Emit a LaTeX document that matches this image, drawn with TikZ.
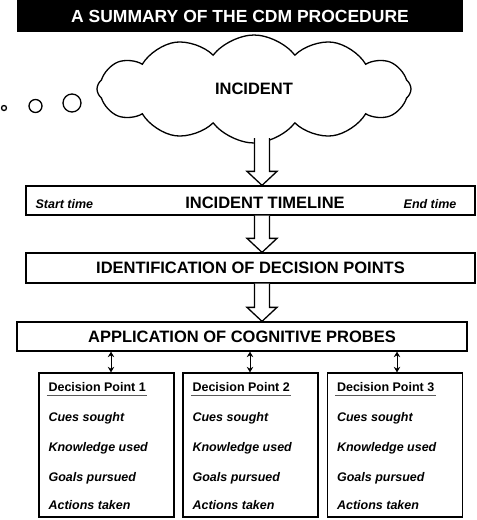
\documentclass[tikz,border=0pt]{standalone}
\usepackage{fontspec}
\setmainfont{Liberation Sans}
\usetikzlibrary{arrows.meta,shapes.symbols,calc}

\tikzset{
  stagebox/.style={draw,line width=1.3pt,minimum height=29pt,inner sep=0pt,
                   font=\fontsize{16.5}{18}\selectfont\bfseries},
  dpbox/.style={draw,line width=1.3pt,minimum width=135pt,minimum height=144pt,inner sep=0pt},
  dptitle/.style={anchor=base west,inner xsep=1.5pt,inner ysep=4pt,text depth=0pt,
                  font=\fontsize{12.5}{14}\selectfont\bfseries},
  dpitem/.style={anchor=base west,inner sep=0pt,
                 font=\fontsize{12.5}{14}\selectfont\bfseries\itshape},
  bubble/.style={circle,draw,line width=1.3pt,inner sep=0pt},
  dblarrow/.style={line width=1pt,{Stealth[length=5.5pt,width=6.5pt]}-{Stealth[length=5.5pt,width=6.5pt]}},
}

% wide hollow arrow from #1 down to #2
\newcommand\bigarrow[2]{%
  \draw[line width=1.3pt,fill=white] let \p1=(#1), \p2=(#2) in
    (\x1-7.5pt,\y1) -- (\x1-7.5pt,\y2+14pt) -- (\x1-15pt,\y2+14pt) -- (\x1,\y2)
    -- (\x1+15pt,\y2+14pt) -- (\x1+7.5pt,\y2+14pt) -- (\x1+7.5pt,\y1);}

\begin{document}
\begin{tikzpicture}[x=1pt,y=-1pt]
\useasboundingbox (0,0) rectangle (477,520);

% title bar
\node[fill=black,text=white,minimum width=446pt,minimum height=32pt,inner sep=0pt,
      font=\fontsize{17.5}{20}\selectfont\bfseries] (title) at (240,16)
      {A SUMMARY OF THE CDM PROCEDURE};

% cloud and thought bubbles
\node[cloud,draw,line width=1.3pt,cloud puffs=12,cloud puff arc=105,aspect=3,
      minimum width=314pt,minimum height=108pt,inner sep=0pt,
      font=\fontsize{16.5}{18}\selectfont\bfseries] (cloud) at (254,89) {INCIDENT};
\node[bubble,minimum size=5pt]  (b1) at (4,108)  {};
\node[bubble,minimum size=13pt] (b2) at (35.5,106) {};
\node[bubble,minimum size=18pt] (b3) at (72,103) {};

% stages
\node[stagebox,minimum width=449pt] (timeline) at (250.5,200.5) {};
\node[anchor=base,inner sep=0pt,font=\fontsize{16.5}{18}\selectfont\bfseries]
      (tltext) at (265,208.5) {INCIDENT TIMELINE};
\node[dpitem] (start) at ($(timeline.west)+(10,8)$) {Start time};
\node[dpitem,anchor=base east] (end) at ($(timeline.east)+(-19,8)$) {End time};

\node[stagebox,minimum width=449pt,minimum height=30pt] (ident) at (250.5,268)
      {IDENTIFICATION OF DECISION POINTS};
\node[stagebox,minimum width=450pt] (probes) at (242,336.5)
      {APPLICATION OF COGNITIVE PROBES};

% hollow arrows
\coordinate (cloudfoot) at (262,138);
\bigarrow{cloudfoot}{timeline.north -| cloudfoot}
\bigarrow{timeline.south -| cloudfoot}{ident.north -| cloudfoot}
\bigarrow{ident.south -| cloudfoot}{probes.north -| cloudfoot}

% decision points
\coordinate (p1) at (111,0);
\coordinate (p2) at (250,0);
\coordinate (p3) at (397,0);
\foreach \i/\cx in {1/106.5,2/250.5,3/395}{
  \node[dpbox] (dp\i) at (\cx,445) {};
  \node[dptitle] (dpt\i) at ($(dp\i.north west)+(8.5,19)$) {Decision Point \i};
  \draw[line width=1.2pt,black!65] (dpt\i.south west) -- (dpt\i.south east);
  \node[dpitem] at ($(dp\i.north west)+(10,49)$)  {Cues sought};
  \node[dpitem] at ($(dp\i.north west)+(10,79)$)  {Knowledge used};
  \node[dpitem] at ($(dp\i.north west)+(10,109)$) {Goals pursued};
  \node[dpitem] at ($(dp\i.north west)+(10,137)$) {Actions taken};
  \draw[dblarrow] (probes.south -| p\i) -- (dp\i.north -| p\i);
}
\end{tikzpicture}
\end{document}
